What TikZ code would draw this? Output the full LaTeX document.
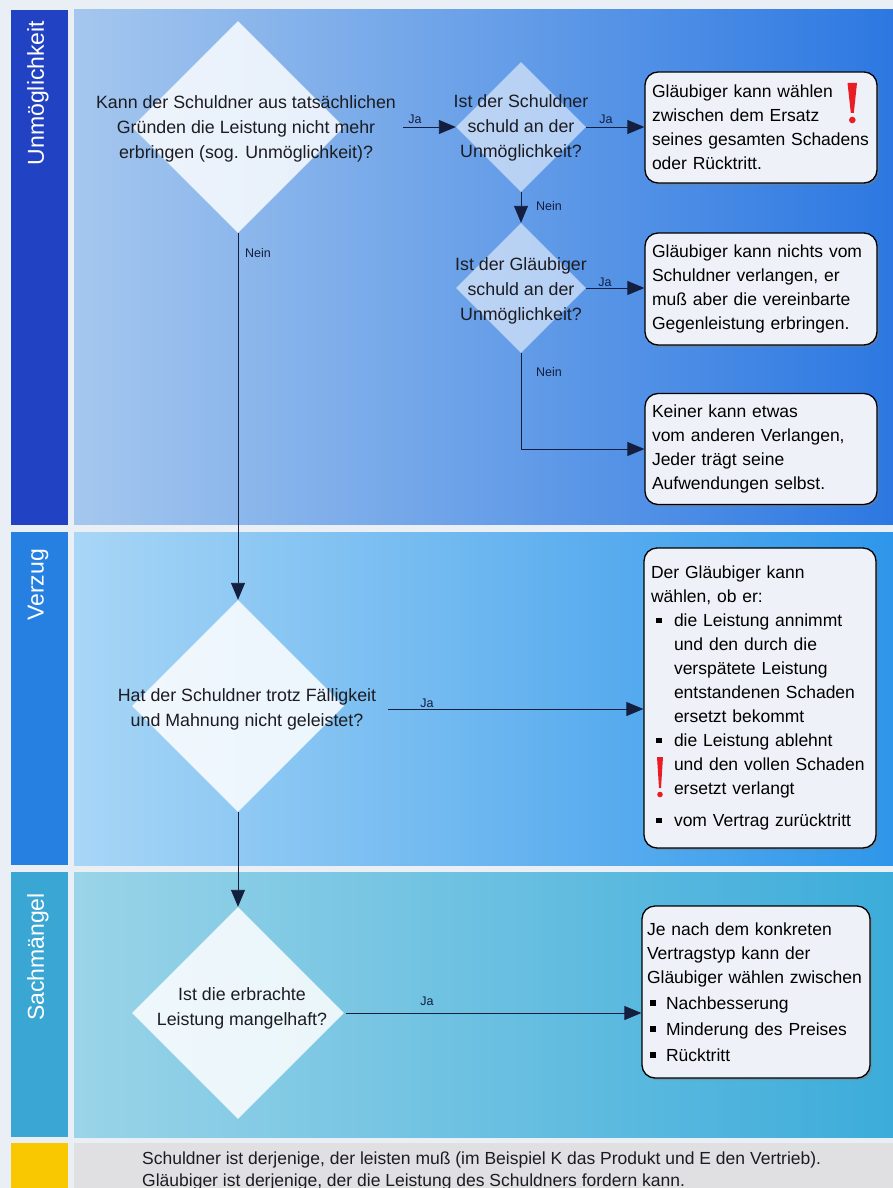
\documentclass[tikz,border=0pt]{standalone}
\usepackage{fontspec}
\setmainfont{Liberation Sans}
\usetikzlibrary{shapes.geometric,arrows.meta,shadows}
\definecolor{bgc}{RGB}{234,239,245}
\definecolor{barA}{RGB}{34,66,196}
\definecolor{barB}{RGB}{38,128,226}
\definecolor{barC}{RGB}{58,166,212}
\definecolor{barD}{RGB}{250,200,0}
\definecolor{pA1}{RGB}{165,199,238}
\definecolor{pA2}{RGB}{44,120,226}
\definecolor{pB1}{RGB}{168,214,246}
\definecolor{pB2}{RGB}{46,150,234}
\definecolor{pC1}{RGB}{154,212,232}
\definecolor{pC2}{RGB}{60,172,218}
\definecolor{footc}{RGB}{224,224,226}
\definecolor{boxf}{RGB}{238,242,248}
\definecolor{linec}{RGB}{20,30,62}
\definecolor{txt}{RGB}{28,28,34}
\definecolor{warn}{RGB}{232,30,36}
\newcommand{\myb}{\makebox[23pt][l]{\hspace*{5pt}\rule[3.5pt]{5.5pt}{5.5pt}}}
\newcommand{\myi}{\hspace*{23pt}}
\newcommand{\mybb}{\makebox[19pt][l]{\hspace*{3pt}\rule[3.5pt]{5.5pt}{5.5pt}}}
\begin{document}
\begin{tikzpicture}[x=1pt,y=-1pt,
  dia/.style={diamond, fill=white, draw=none, inner sep=0pt, minimum width=#1, minimum height=#1},
  dtxt/.style={font=\fontsize{17.8}{25}\selectfont, align=center, text=txt, inner sep=0pt},
  box/.style={draw=black, line width=1.3pt, rounded corners=13pt, fill=boxf,
    drop shadow={shadow xshift=2pt, shadow yshift=-2pt, opacity=0.45},
    font=\fontsize{17.5}{24}\selectfont, align=left, inner xsep=7pt, inner ysep=0pt,
    text width=218pt, text=black},
  arr/.style={draw=linec, line width=0.9pt, -{Triangle[length=17pt,width=14pt]}},
  lbl/.style={font=\fontsize{12.5}{14}\selectfont, text=linec, inner sep=0pt},
  side/.style={rotate=90, text=white, font=\fontsize{23}{23}\selectfont, inner sep=0pt},
  foottxt/.style={anchor=base west, font=\fontsize{17.5}{22}\selectfont, text=txt, inner sep=0pt}
]
\useasboundingbox (0,0) rectangle (893,1188);
\clip (0,0) rectangle (893,1188);
% background bands
\fill[bgc] (0,0) rectangle (893,1188);
\fill[barA] (11,10) rectangle (68,525);
\shade[left color=pA1,right color=pA2] (74,10) rectangle (893,524);
\fill[barB] (11,532) rectangle (68,865);
\shade[left color=pB1,right color=pB2] (74,532) rectangle (893,865);
\fill[barC] (11,872) rectangle (68,1137);
\shade[left color=pC1,right color=pC2] (74,872) rectangle (893,1137);
\fill[barD] (11,1143) rectangle (68,1188);
\fill[footc] (74,1143) rectangle (893,1188);
% side labels
\node[side] (sA) at (38,93) {Unmöglichkeit};
\node[side] (sB) at (38,585) {Verzug};
\node[side] (sC) at (38,957) {Sachmängel};
% diamonds
\node[dia=212pt, fill opacity=0.82] (d1) at (238,127) {};
\node[dia=130pt, fill opacity=0.55] (d2) at (521,127) {};
\node[dia=130pt, fill opacity=0.55] (d3) at (521,288) {};
\node[dia=212pt, fill opacity=0.85] (d4) at (238,706) {};
\node[dia=212pt, fill opacity=0.85] (d5) at (238,1013) {};
\node[dtxt] (t1) at (246,129) {Kann der Schuldner aus tatsächlichen\\Gründen die Leistung nicht mehr\\erbringen (sog. Unmöglichkeit)?};
\node[dtxt] (t2) at (521,128) {Ist der Schuldner\\schuld an der\\Unmöglichkeit?};
\node[dtxt] (t3) at (521,291) {Ist der Gläubiger\\schuld an der\\Unmöglichkeit?};
\node[dtxt] (t4) at (247,709) {Hat der Schuldner trotz Fälligkeit\\und Mahnung nicht geleistet?};
\node[dtxt] (t5) at (242,1008) {Ist die erbrachte\\Leistung mangelhaft?};
% boxes
\node[box, minimum width=232pt, minimum height=111pt] (b1) at (761,127.5)
  {Gläubiger kann wählen\\zwischen dem Ersatz\\seines gesamten Schadens\\oder Rücktritt.};
\node[box, minimum width=232pt, minimum height=112pt] (b2) at (761,289)
  {Gläubiger kann nichts vom\\Schuldner verlangen, er\\muß aber die vereinbarte\\Gegenleistung erbringen.};
\node[box, minimum width=232pt, minimum height=111pt] (b3) at (761,449)
  {Keiner kann etwas\\vom anderen Verlangen,\\Jeder trägt seine\\Aufwendungen selbst.};
\node[box, minimum width=231pt, minimum height=300pt] (b4) at (760,698)
  {Der Gläubiger kann\\wählen, ob er:\\
   \myb die Leistung annimmt\\
   \myi und den durch die\\
   \myi verspätete Leistung\\
   \myi entstandenen Schaden\\
   \myi ersetzt bekommt\\
   \myb die Leistung ablehnt\\
   \myi und den vollen Schaden\\
   \myi ersetzt verlangt\\[8pt]
   \myb vom Vertrag zurücktritt};
\node[box, inner xsep=5pt, text width=218pt, minimum width=228pt, minimum height=172pt] (b5) at (756,992)
  {Je nach dem konkreten\\Vertragstyp kann der\\Gläubiger wählen zwischen\\[2pt]
   \mybb Nachbesserung\\[2pt]
   \mybb Minderung des Preises\\[2pt]
   \mybb Rücktritt};
% warning marks
\fill[warn] (847.5,83) -- (857,83) -- (853.8,113) -- (850.8,113) -- cycle;
\fill[warn] (852.3,120) circle (3.3);
\fill[warn] (657,757) -- (663,757) -- (661,788) -- (659,788) -- cycle;
\fill[warn] (660,794.5) circle (2.8);
% connectors
\draw[arr, shorten <=7pt] (t1.east |- d2.west) -- (d2.west);
\draw[arr] (d2.east) -- (b1.west |- d2.east);
\draw[arr] (d2.south) -- (d3.north);
\draw[arr] (d3.east) -- (b2.west |- d3.east);
\draw[arr] (d3.south) |- (b3.west);
\draw[arr] (d1.south) -- (d4.north);
\draw[arr, shorten <=12pt] (t4.east) -- (b4.west |- t4.east);
\draw[arr] (d4.south) -- (d5.north);
\draw[arr, shorten <=2pt] (d5.east) -- (b5.west |- d5.east);
% connector labels
\node[lbl] (j1) at (415,119) {Ja};
\node[lbl] (j2) at (606,119) {Ja};
\node[lbl] (j3) at (605,282) {Ja};
\node[lbl] (j4) at (427,703) {Ja};
\node[lbl] (j5) at (427,1001) {Ja};
\node[lbl] (n1) at (258,253) {Nein};
\node[lbl] (n2) at (549,206) {Nein};
\node[lbl] (n3) at (549,372) {Nein};
% footer
\node[foottxt] (f1) at (142,1164) {Schuldner ist derjenige, der leisten muß (im Beispiel K das Produkt und E den Vertrieb).};
\node[foottxt] (f2) at (142,1186) {Gläubiger ist derjenige, der die Leistung des Schuldners fordern kann.};
\end{tikzpicture}
\end{document}
